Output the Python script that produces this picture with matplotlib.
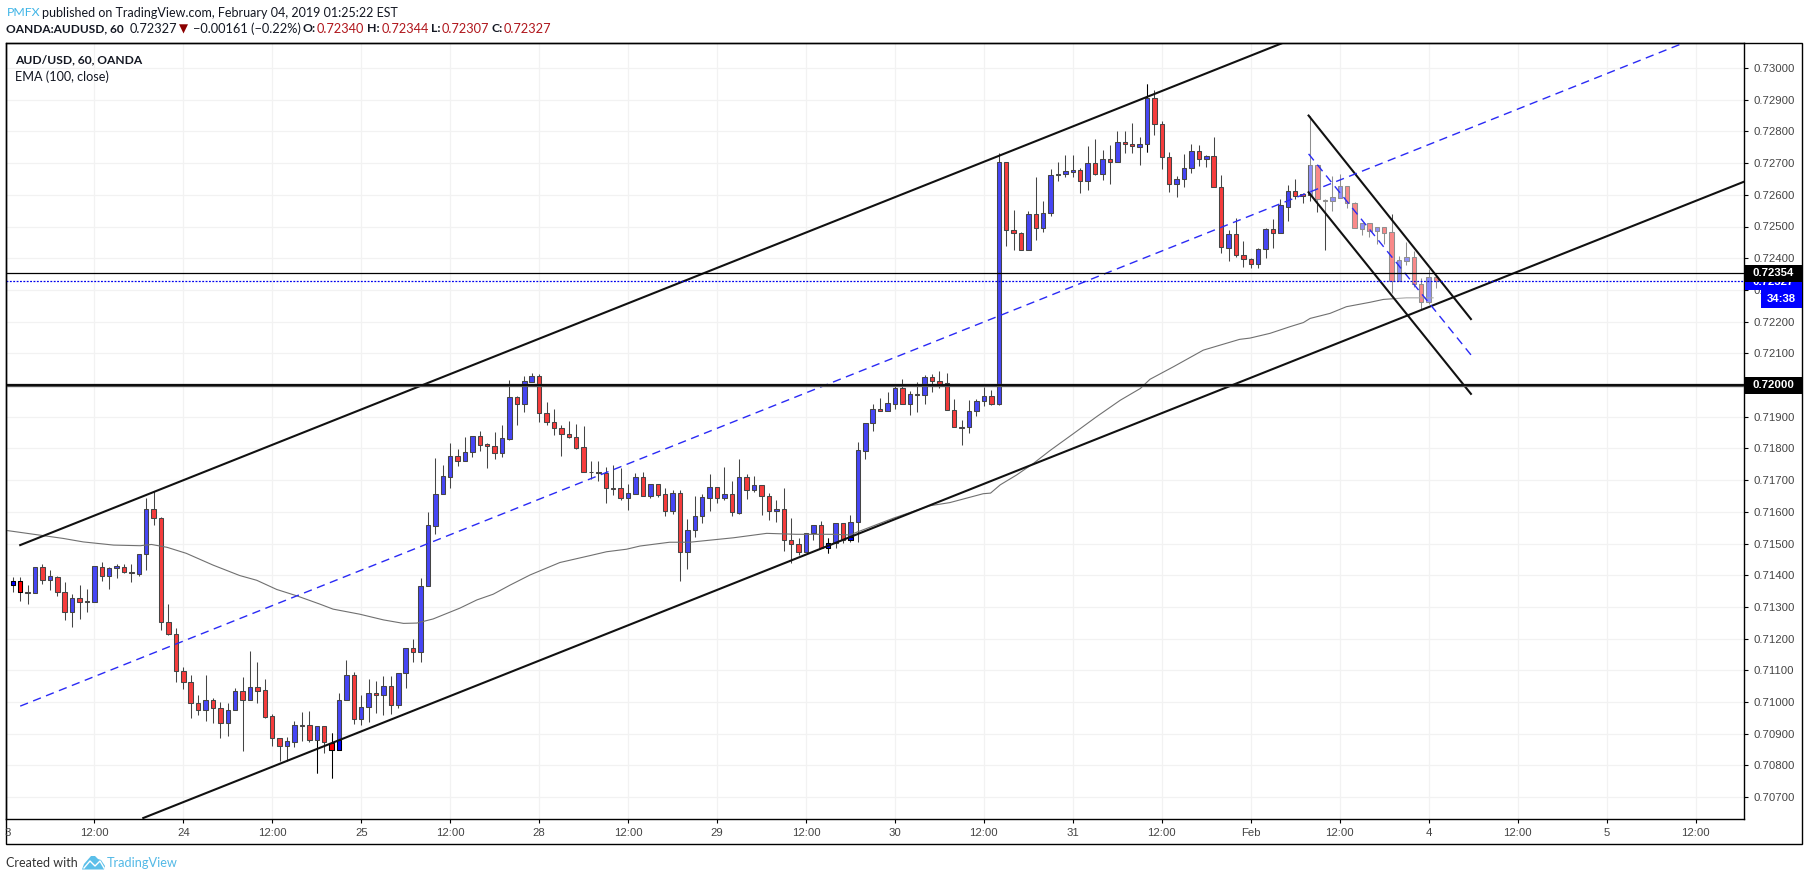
import numpy as np
import matplotlib
matplotlib.use("Agg")
import matplotlib.pyplot as plt
from matplotlib.patches import Rectangle, Polygon

W, H = 1808, 881

# prices in 1e-5, one bar per hour, hour 0 = the "24" tick
first_hour = -23
opens = [71368,71383,71348,71345,71425,71384,71395,71348,71283,71327,
         71319,71317,71427,71396,71422,71427,71409,71405,71466,71608,
         71579,71251,71214,71097,71062,70996,70976,71005,70980,70935,
         70974,71034,71005,71046,71037,70955,70885,70860,70875,70928,
         70929,70879,70923,70870,70848,71005,71084,70945,70983,71027,
         71021,71049,70989,71090,71169,71157,71365,71556,71655,71711,
         71775,71761,71788,71838,71813,71807,71784,71831,71961,71939,
         72011,72027,71911,71882,71863,71845,71835,71803,71725,71725,
         71721,71674,71674,71645,71657,71709,71651,71687,71655,71601,
         71658,71472,71542,71586,71645,71677,71642,71655,71597,71709,
         71668,71684,71649,71601,71608,71510,71497,71474,71532,71557,
         71487,71501,71564,71511,71567,71793,71879,71923,71919,71941,
         71989,71941,71973,71970,72024,72013,72005,71920,71868,71868,
         71917,71951,71964,71941,72705,72488,72481,72425,72538,72496,
         72543,72661,72667,72673,72677,72645,72699,72667,72712,72705,
         72768,72759,72752,72759,72904,72822,72720,72633,72649,72683,
         72737,72712,72721,72626,72433,72475,72409,72396,72383,72428,
         72491,72480,72563,72611,72601,72600,72693,72585,72581,72591,
         72627,72573,72493,72510,72487,72498,72482,72329,72392,72403,
         72318,72261,72340]
highs = [71393,71393,71369,71427,71434,71415,71398,71379,71340,71369,
         71355,71430,71441,71427,71434,71434,71434,71466,71643,71667,
         71585,71309,71232,71109,71085,71022,71085,71012,70999,70997,
         71043,71078,71161,71125,71073,70961,70885,70889,70940,70969,
         70972,70923,70923,70901,71027,71133,71095,71021,71073,71066,
         71082,71082,71090,71169,71198,71390,71599,71769,71748,71817,
         71798,71836,71839,71855,71818,71852,71874,72016,71965,72029,
         72037,72035,71945,71924,71874,71887,71877,71871,71760,71760,
         71740,71748,71737,71688,71721,71726,71687,71687,71676,71669,
         71669,71577,71650,71656,71719,71677,71741,71697,71767,71719,
         71713,71684,71658,71637,71675,71581,71516,71532,71557,71571,
         71516,71564,71566,71589,71819,71881,71939,71958,71977,71997,
         72019,71981,72010,72031,72034,72043,72038,71955,71889,71952,
         71956,71995,71984,72731,72705,72552,72483,72549,72656,72580,
         72681,72703,72725,72725,72686,72754,72776,72741,72757,72801,
         72801,72826,72781,72951,72930,72832,72734,72659,72728,72760,
         72757,72727,72782,72661,72489,72526,72454,72402,72431,72494,
         72523,72586,72631,72649,72607,72850,72693,72587,72659,72666,
         72628,72577,72510,72511,72498,72498,72541,72407,72450,72422,
         72339,72366,72344]
lows = [71348,71320,71309,71345,71372,71353,71335,71259,71238,71262,
        71283,71317,71383,71358,71391,71407,71380,71399,71416,71558,
        71227,71210,71064,71040,70951,70959,70941,70935,70888,70894,
        70974,70847,71005,70998,70949,70862,70815,70815,70859,70878,
        70873,70777,70840,70761,70848,71005,70931,70928,70938,70966,
        70959,70962,70982,71045,71126,71126,71365,71530,71655,71676,
        71743,71761,71774,71792,71739,71767,71774,71827,71874,71915,
        72009,71883,71874,71842,71777,71832,71797,71725,71704,71698,
        71629,71653,71637,71606,71657,71651,71645,71648,71588,71593,
        71383,71421,71522,71566,71601,71629,71637,71588,71592,71641,
        71664,71590,71574,71569,71477,71440,71464,71474,71511,71485,
        71471,71487,71503,71506,71506,71765,71856,71918,71919,71924,
        71941,71906,71915,71940,71979,71991,71920,71866,71811,71849,
        71903,71935,71938,71938,72438,72426,72425,72425,72457,72482,
        72534,72644,72657,72657,72606,72616,72663,72648,72635,72705,
        72733,72733,72695,72736,72789,72682,72610,72594,72625,72670,
        72691,72689,72626,72417,72392,72405,72373,72370,72370,72401,
        72433,72480,72518,72587,72575,72581,72547,72426,72549,72591,
        72559,72494,72473,72468,72444,72444,72291,72329,72378,72310,
        72239,72255,72307]
closes = [71383,71348,71345,71425,71384,71396,71348,71283,71327,71317,
          71317,71428,71396,71422,71428,71409,71406,71466,71608,71579,
          71251,71214,71097,71062,70996,70976,71005,70980,70935,70974,
          71034,71005,71046,71036,70954,70885,70860,70876,70926,70925,
          70879,70923,70873,70848,71005,71084,70945,70983,71027,71021,
          71049,70990,71090,71169,71157,71365,71557,71655,71712,71775,
          71761,71788,71838,71812,71807,71784,71832,71961,71939,72012,
          72027,71911,71882,71863,71845,71835,71802,71725,71724,71721,
          71674,71673,71645,71658,71709,71651,71687,71654,71602,71658,
          71472,71542,71586,71646,71677,71643,71655,71598,71709,71668,
          71684,71649,71602,71608,71510,71497,71474,71532,71557,71487,
          71503,71564,71511,71567,71794,71879,71923,71918,71942,71989,
          71941,71973,71970,72024,72013,72004,71920,71866,71865,71917,
          71951,71964,71941,72705,72488,72481,72425,72538,72496,72544,
          72661,72667,72674,72677,72645,72699,72667,72712,72705,72768,
          72759,72753,72759,72905,72822,72720,72633,72649,72683,72737,
          72712,72721,72626,72434,72475,72409,72396,72383,72428,72491,
          72480,72568,72611,72597,72596,72693,72587,72581,72592,72627,
          72573,72494,72510,72487,72498,72481,72329,72393,72403,72318,
          72261,72340,72327]

# parts of bars that come out darker in the picture: hour, from, to
dark_parts = [(-23, 71368, 71383), (-22, 71348, 71383), (20, 70848, 70870),
              (21, 70848, 70880), (87, 71487, 71503), (90, 71511, 71520)]
dark_wicks = [18, 20, 130, 87]

ema_hours = [-23.8,-16.2,-13.5,-9.4,-5.8,-4.3,-2.2,0.4,4,7.6,9.9,12.6,15.3,18.4,20.2,23.8,
             27,29.7,31.5,33.7,37.3,39.6,41.8,44.1,46.8,50.8,54.9,57.1,59.8,61.6,65.6,68.3,
             74.2,78.7,82.7,87.7,89.9,95.8,100.7,103.4,107.9,108.9,110.2,112.4,114.7,116.9,
             120.1,123.2,126.4,129.1,130.4,133.6,137.6,139.9,142.5,143.9,146.6,149.3,151.1,
             152,154.7,156.9,160.1,161.9,165,168.6]
ema_values = [71541,71516,71505,71495,71493,71497,71488,71469,71432,71399,71384,71355,71335,71309,71293,71277,
              71259,71248,71249,71262,71296,71322,71340,71369,71401,71440,71462,71474,71482,71492,71504,71504,
              71518,71532,71529,71529,71527,71580,71619,71629,71657,71659,71685,71716,71753,71793,
              71847,71900,71952,71989,72018,72058,72110,72126,72144,72148,72163,72184,72197,
              72210,72226,72247,72261,72270,72275,72275]

# drawings: [hour, hour], [price, price]
upper_h, upper_p = [-22.0, 148.3], [71495, 73079]
lower_h, lower_p = [-5.4, 210.5], [70634, 72641]
mid_h, mid_p = [-22.0, 202.4], [70987, 73079]
fall_h = [151.8, 173.7]
fall_top = [72850, 72208]
fall_mid = [72729, 72095]
fall_bot = [72608, 71972]

level_support = 72000
level_last = 72354
level_close = 72327

xtick_hours = list(range(-12, 205, 12))
xtick_labels = ["12:00","24","12:00","25","12:00","28","12:00","29","12:00","30","12:00",
                "31","12:00","Feb","12:00","4","12:00","5","12:00"]
ytick_values = [70700 + 100 * i for i in range(24)]

BLUE, RED = "#4646f5", "#f63c3c"
WICK = "#454545"


def fx(x):
    return x / W


def fy(y):
    return 1 - y / H


def put(x, y, s, **kw):
    kw.setdefault("family", "Lato")
    kw.setdefault("fontsize", 9)
    kw.setdefault("color", "#131722")
    kw.setdefault("va", "center")
    return fig.text(fx(x), fy(y), s, **kw)


fig = plt.figure(figsize=(W / 100, H / 100), dpi=100)
ax = fig.add_axes([fx(6), fy(819), fx(1744 - 6), fy(43) - fy(819)])

hours = np.arange(first_hour, first_hour + len(opens))
o = np.array(opens) / 1e5
hi = np.array(highs) / 1e5
lo = np.array(lows) / 1e5
c = np.array(closes) / 1e5
up = c >= o

ax.vlines(hours, lo, hi, color=WICK, lw=0.75, zorder=3)
tops = np.maximum(o, c)
bots = np.minimum(o, c)
ax.bar(hours[up], (tops - bots)[up], bottom=bots[up], width=0.6, color=BLUE,
       edgecolor=WICK, linewidth=0.75, zorder=4)
ax.bar(hours[~up], (tops - bots)[~up], bottom=bots[~up], width=0.6, color=RED,
       edgecolor=WICK, linewidth=0.75, zorder=4)

for h in dark_wicks:
    i = h - first_hour
    ax.vlines(h, lo[i], hi[i], color="black", lw=0.75, zorder=3.5)
for h, p0, p1 in dark_parts:
    i = h - first_hour
    ax.bar(h, (p1 - p0) / 1e5, bottom=p0 / 1e5, width=0.6, color="#0000ff" if up[i] else "#ff0000",
           edgecolor="black", linewidth=0.75, zorder=4.5)

ax.plot(ema_hours, np.array(ema_values) / 1e5, color="#707070", lw=0.8, zorder=5)

# falling channel has a see-through white fill over the bars
ax.add_patch(Polygon([(fall_h[0], fall_top[0] / 1e5), (fall_h[1], fall_top[1] / 1e5),
                      (fall_h[1], fall_bot[1] / 1e5), (fall_h[0], fall_bot[0] / 1e5)],
                     closed=True, facecolor="white", edgecolor="none", alpha=0.4, zorder=6))

for xs, ys in [(upper_h, upper_p), (lower_h, lower_p)]:
    ax.plot(xs, np.array(ys) / 1e5, color="#111111", lw=1.5, zorder=7)
ax.plot(fall_h, np.array(fall_top) / 1e5, color="#111111", lw=1.5, zorder=7)
ax.plot(fall_h, np.array(fall_bot) / 1e5, color="#111111", lw=1.5, zorder=7)
ax.plot(mid_h, np.array(mid_p) / 1e5, color="#2a2af5", lw=1.0, ls=(0, (6, 4)), zorder=7)
ax.plot(fall_h, np.array(fall_mid) / 1e5, color="#2a2af5", lw=1.0, ls=(0, (6, 4)), zorder=7)

ax.axhline(level_support / 1e5, color="#555555", lw=2.4, zorder=7)
ax.axhline(level_support / 1e5, color="black", lw=1.2, zorder=7.1)
ax.axhline(level_last / 1e5, color="black", lw=0.9, zorder=7)
ax.axhline(level_close / 1e5, color="#0000ee", lw=0.9, ls=(0, (1.5, 1.2)), zorder=7)

ax.set_xlim((6 - 183.3) / 7.413, (1744 - 183.3) / 7.413)
ax.set_ylim(0.72 - (819 - 385) / 31700, 0.72 + (385 - 43) / 31700)
ax.set_xticks(xtick_hours)
ax.set_xticklabels(xtick_labels)
ax.set_yticks(np.array(ytick_values) / 1e5)
ax.set_yticklabels([f"{v / 1e5:.5f}" for v in ytick_values])
ax.yaxis.tick_right()
ax.tick_params(axis="both", length=3, width=0.8, color="black", labelcolor="#444444",
               labelsize=8.2, pad=3.5)
for lab in ax.get_xticklabels() + ax.get_yticklabels():
    lab.set_family("Liberation Sans")
ax.grid(True, color="#f2f2f2", lw=0.9, zorder=0)
ax.set_axisbelow(True)
for side in ax.spines:
    ax.spines[side].set_linewidth(1.0)
    ax.spines[side].set_color("black")

# outer frame
fig.add_artist(Rectangle((fx(6), fy(844)), fx(1802 - 6), fy(43) - fy(844), transform=fig.transFigure,
                         fill=False, edgecolor="black", lw=1.0))

# clipped first day label
put(8, 833, "3", family="Liberation Sans", fontsize=8.2, color="#444444", ha="center")


def price_box(y0, y1, x0, color, z):
    fig.add_artist(Rectangle((fx(x0), fy(y1)), fx(1802 - x0), fy(y0) - fy(y1), transform=fig.transFigure,
                             facecolor=color, edgecolor="none", zorder=z))


price_box(273, 290, 1745, "#0000ff", 3)
put(1773, 282, "0.72327", family="Liberation Sans", fontsize=8.2, weight="bold", color="white", ha="center", zorder=3.1)
price_box(265, 282, 1745, "black", 4)
put(1773, 273.5, "0.72354", family="Liberation Sans", fontsize=8.2, weight="bold", color="white", ha="center", zorder=4.1)
price_box(377, 393.5, 1745, "black", 4)
put(1773, 385, "0.72000", family="Liberation Sans", fontsize=8.2, weight="bold", color="white", ha="center", zorder=4.1)
price_box(290, 307.5, 1761, "#0000ff", 5)
put(1781, 299, "34:38", family="Liberation Sans", fontsize=8.2, weight="bold", color="white", ha="center", zorder=5.1)

# legend text on the pane
put(15, 60, "AUD/USD, 60, OANDA", fontsize=8.65, weight="bold")
put(15, 77, "EMA (100, close)", fontsize=9.1)

# header
put(6.5, 13, "PMFX", color="#3fb4e6", fontsize=8.8)
put(42.5, 13, "published on TradingView.com, February 04, 2019 01:25:22 EST", fontsize=9)
put(6.5, 29, "OANDA:AUDUSD, 60", weight="bold", fontsize=8.55)
put(130, 29, "0.72327", fontsize=9.2)
put(179, 29, "▼", family="DejaVu Sans", color="#8b0000", fontsize=8.5)
put(193, 29, "−0.00161 (−0.22%)", fontsize=9.2)
for x_key, x_val, key, val in [(303, 317, "O:", "0.72340"), (367, 381.5, "H:", "0.72344"),
                               (431.5, 442, "L:", "0.72307"), (492, 504, "C:", "0.72327")]:
    put(x_key, 29, key, weight="bold", fontsize=8.8)
    put(x_val, 29, val, color="#b0161c", fontsize=9.2)

# footer with logo
put(6, 863, "Created with", fontsize=9.0, color="#333333")
logo = [(82, 869.5), (84, 864), (91, 856), (95, 856), (98, 859), (101, 860), (105, 866), (104, 869.5)]
fig.add_artist(Polygon([(fx(a), fy(b)) for a, b in logo], closed=True, transform=fig.transFigure,
                       facecolor="#5bbfe9", edgecolor="none"))
zig = [(84, 868), (90, 861), (95, 866), (100, 861), (104, 868)]
fig.add_artist(plt.Line2D([fx(a) for a, b in zig], [fy(b) for a, b in zig], transform=fig.transFigure,
                          color="white", lw=1.0))
put(107, 863, "TradingView", fontsize=9.2, color="#53b9e6")

fig.savefig("out.png", dpi=100)
